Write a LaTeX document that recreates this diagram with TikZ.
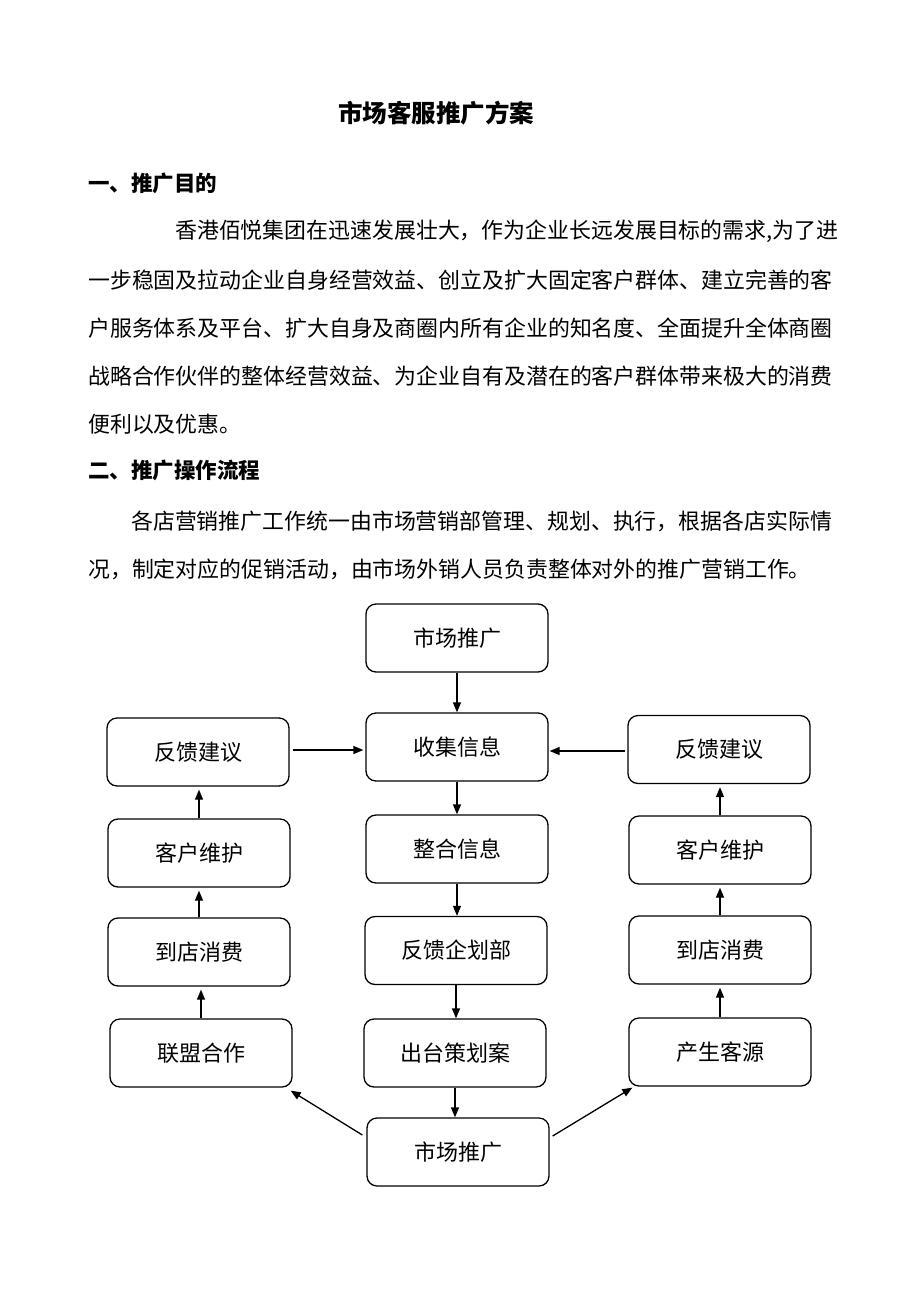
\documentclass[tikz,border=0pt]{standalone}
\usepackage{fontspec}
\setmainfont{Noto Sans CJK SC}
\usetikzlibrary{arrows.meta}
\begin{document}
\begin{tikzpicture}[x=1pt,y=-1pt,
  box/.style={draw,line width=1.3pt,rounded corners=10pt,minimum width=182pt,minimum height=68pt,inner sep=0pt,font=\fontsize{22}{22}\selectfont},
  arr/.style={line width=1.3pt,-{Triangle[length=10pt,width=8pt]}},
  txt/.style={anchor=west,inner sep=0pt,font=\fontsize{21.9}{22}\selectfont},
  head/.style={anchor=west,inner sep=0pt,font=\fontsize{21.5}{22}\selectfont\bfseries}]
\fill[white] (0,0) rectangle (920,1302);
\path[use as bounding box] (0,0) rectangle (920,1302);

% title and text
\node[inner sep=0pt,font=\fontsize{24.5}{25}\selectfont\bfseries] (title) at (436,113) {市场客服推广方案};
\node[head] (h1) at (88,183) {一、推广目的};
\node[txt] (p1a) at (175,231) {香港佰悦集团在迅速发展壮大，作为企业长远发展目标的需求,为了进};
\node[txt] (p1b) at (88,280) {一步稳固及拉动企业自身经营效益、创立及扩大固定客户群体、建立完善的客};
\node[txt] (p1c) at (88,328) {户服务体系及平台、扩大自身及商圈内所有企业的知名度、全面提升全体商圈};
\node[txt] (p1d) at (88,376) {战略合作伙伴的整体经营效益、为企业自有及潜在的客户群体带来极大的消费};
\node[txt] (p1e) at (88,424) {便利以及优惠。};
\node[head] (h2) at (88,470) {二、推广操作流程};
\node[txt] (p2a) at (131,521) {各店营销推广工作统一由市场营销部管理、规划、执行，根据各店实际情};
\node[txt] (p2b) at (88,569) {况，制定对应的促销活动，由市场外销人员负责整体对外的推广营销工作。};

% centre column
\node[box] (m1) at (457,638) {市场推广};
\node[box] (c1) at (457,747) {收集信息};
\node[box] (c2) at (457,849) {整合信息};
\node[box] (c3) at (456,950.5) {反馈企划部};
\node[box] (c4) at (455,1053) {出台策划案};
\node[box] (m2) at (458,1152) {市场推广};
% left column
\node[box] (L1) at (198,752) {反馈建议};
\node[box] (L2) at (199,853) {客户维护};
\node[box] (L3) at (199,952) {到店消费};
\node[box] (L4) at (201,1053) {联盟合作};
% right column
\node[box] (R1) at (719,749.5) {反馈建议};
\node[box] (R2) at (720,850) {客户维护};
\node[box] (R3) at (720,950) {到店消费};
\node[box] (R4) at (720,1052) {产生客源};

% centre arrows
\draw[arr] (m1.south) -- (m1.south |- c1.north);
\draw[arr] (c1.south) -- (c1.south |- c2.north);
\draw[arr] (c2.south) -- (c2.south |- c3.north);
\draw[arr] (c3.south) -- (c3.south |- c4.north);
\draw[arr] (c4.south) -- (c4.south |- m2.north);
% left arrows
\draw[arr,shorten >=3pt] (L4.north) -- (L4.north |- L3.south);
\draw[arr,shorten >=3pt] (L3.north) -- (L3.north |- L2.south);
\draw[arr,shorten >=3pt] (L2.north) -- (L2.north |- L1.south);
% right arrows
\draw[arr,shorten >=3pt] (R4.north) -- (R4.north |- R3.south);
\draw[arr,shorten >=3pt] (R3.north) -- (R3.north |- R2.south);
\draw[arr,shorten >=3pt] (R2.north) -- (R2.north |- R1.south);
% horizontal feedback arrows
\coordinate (hl) at (0,750);
\coordinate (hr) at (0,751);
\draw[arr,shorten <=3pt,shorten >=2pt] (L1.east |- hl) -- (c1.west |- hl);
\draw[arr,shorten <=2pt,shorten >=1pt] (R1.west |- hr) -- (c1.east |- hr);
% diagonal arrows
\draw[arr] ([xshift=-4pt,yshift=17pt]m2.west) -- ([xshift=-2pt,yshift=-3pt]L4.south east);
\draw[arr] ([xshift=3pt,yshift=16pt]m2.east) -- ([xshift=4pt,yshift=-1pt]R4.south west);
\end{tikzpicture}
\end{document}
